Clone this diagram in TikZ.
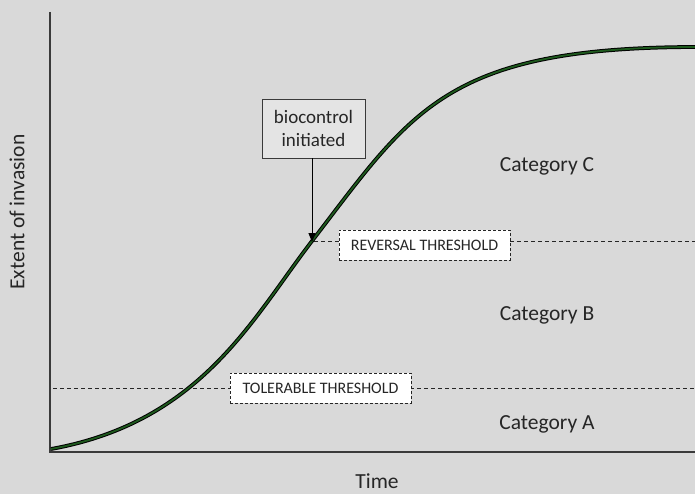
\documentclass[tikz,border=0pt]{standalone}
\usepackage{fontspec}
\setmainfont{Carlito}
\usetikzlibrary{arrows.meta}
\definecolor{bggray}{HTML}{D9D9D9}
\definecolor{boxgray}{HTML}{E4E4E4}
\definecolor{txtgray}{HTML}{262626}
\definecolor{axisgray}{HTML}{3A3A3A}
\definecolor{growth}{HTML}{1E5A1E}

\begin{document}
\begin{tikzpicture}[x=1pt,y=-1pt,
		lbl/.style={text=txtgray,inner sep=0pt,font=\fontsize{21.5}{26}\selectfont},
		thrbox/.style={draw=txtgray,dash pattern=on 3pt off 2pt,fill=white,line width=0.8pt,inner sep=0pt,text=txtgray,font=\fontsize{16}{19}\selectfont,minimum height=30pt},
		thrline/.style={draw=txtgray,dash pattern=on 4pt off 3pt,line width=0.8pt}]
		\fill[bggray] (0,0) rectangle (695,494);
		\useasboundingbox (0,0) rectangle (695,494);

		\coordinate (top) at (50,12);
		\coordinate (o) at (50,452);
		\coordinate (end) at (695,452);
		\draw[axisgray,line width=1.2pt] (top) -- (o) -- (end);

		\coordinate (t1) at (53,388);
		\coordinate (t2) at (695,388);
		\coordinate (r1) at (314,241);
		\coordinate (r2) at (695,241);
		\draw[thrline] (t1) -- (t2);
		\draw[thrline] (r1) -- (r2);

		\coordinate (c0) at (51,449);
		\coordinate (c1) at (312,241);
		\coordinate (c2) at (698,47);
		\draw[line width=1pt,double=growth,double distance=1.8pt] (c0) .. controls (201,422) and (252,319) .. (c1)
			.. controls (412,111) and (445,47) .. (c2);

		\draw (424.5,245) node[thrbox,minimum width=171pt] (rev) {REVERSAL THRESHOLD};
		\draw (320.5,388) node[thrbox,minimum width=181pt] (tol) {TOLERABLE THRESHOLD};

		\draw (313.5,128.5) node[draw=axisgray,fill=boxgray,line width=0.8pt,inner sep=0pt,minimum width=103pt,minimum height=59pt,align=center,text=txtgray,font=\fontsize{19}{23}\selectfont] (bc) {biocontrol\\initiated};
		\coordinate (tip) at (312,242);
		\draw[-{Triangle[length=9pt,width=7pt]},line width=1pt,black] (bc.south -| tip) -- (tip);

		\draw (547,166) node[lbl] (catc) {Category C};
		\draw (547,315) node[lbl] (catb) {Category B};
		\draw (547,424) node[lbl] (cata) {Category A};
		\draw (377,481) node[lbl] (time) {Time};
		\draw (17,212) node[lbl,rotate=90] (ext) {Extent of invasion};
	\end{tikzpicture}
\end{document}
